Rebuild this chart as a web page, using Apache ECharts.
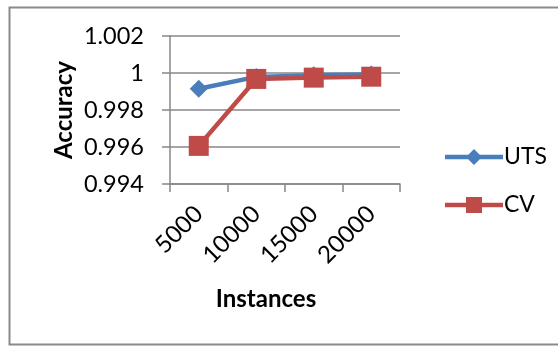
<!DOCTYPE html>
<html>
<head>
<meta charset="utf-8">
<script src="https://cdn.jsdelivr.net/npm/echarts@6/dist/echarts.min.js"></script>
<style>
  html, body { margin: 0; padding: 0; background: #fff; }
  #chart { width: 558px; height: 346px; }
</style>
</head>
<body>
<div id="chart"></div>
<script>
// Accuracy of UTS vs CV for growing numbers of instances
const categories = ['5000', '10000', '15000', '20000'];
const utsValues = [0.99915, 0.99979, 0.99988, 0.99992];
const cvValues = [0.99606, 0.99968, 0.99975, 0.99980];
const yTicks = { min: 0.994, max: 1.002, interval: 0.002 };

const FONT = 'Lato';
const GRID_GRAY = '#878787';
const BLUE = '#4a7ebb';
const RED = '#be4b48';

// Legend icons: a thick line with the series marker in the middle (58 x 16 box)
const ICON_DIAMOND_LINE = 'path://M0,5.75 L23.25,5.75 L29,0 L34.75,5.75 L58,5.75 L58,10.25 L34.75,10.25 L29,16 L23.25,10.25 L0,10.25 Z';
const ICON_SQUARE_LINE = 'path://M0,5.75 L21,5.75 L21,0 L37,0 L37,5.75 L58,5.75 L58,10.25 L37,10.25 L37,16 L21,16 L21,10.25 L0,10.25 Z';

const chart = echarts.init(document.getElementById('chart'), null, { renderer: 'canvas' });

chart.setOption({
  animation: false,
  backgroundColor: '#ffffff',
  graphic: [{
    type: 'rect',
    shape: { x: 9.5, y: 7.5, width: 560, height: 337 },
    style: { fill: 'none', stroke: '#8a8a8a', lineWidth: 2 },
    silent: true
  }],
  grid: { left: 170, right: 158, top: 36, bottom: 162, containLabel: false },
  legend: {
    orient: 'vertical',
    left: 440,
    top: 140,
    itemWidth: 58,
    itemHeight: 16,
    itemGap: 24,
    textStyle: { fontFamily: FONT, fontSize: 23, lineHeight: 24, color: '#000', padding: [0, 0, 0, -4] },
    data: [
      { name: 'UTS', icon: ICON_DIAMOND_LINE },
      { name: 'CV', icon: ICON_SQUARE_LINE }
    ]
  },
  xAxis: {
    type: 'category',
    data: categories,
    boundaryGap: true,
    name: 'Instances',
    nameLocation: 'middle',
    nameGap: 103,
    nameTextStyle: {
      fontFamily: FONT, fontSize: 24, fontWeight: 'bold', color: '#000',
      verticalAlign: 'top', padding: [0, 38, 0, 0]
    },
    axisLine: { lineStyle: { color: GRID_GRAY, width: 1.5 } },
    axisTick: { show: true, length: 8, alignWithLabel: false, lineStyle: { color: GRID_GRAY, width: 1.5 } },
    axisLabel: { rotate: 45, fontFamily: FONT, fontSize: 24, color: '#000', margin: 26 },
    splitLine: { show: false }
  },
  yAxis: {
    type: 'value',
    min: yTicks.min,
    max: yTicks.max,
    interval: yTicks.interval,
    name: 'Accuracy',
    nameLocation: 'middle',
    nameRotate: 90,
    nameGap: 94,
    nameTextStyle: { fontFamily: FONT, fontSize: 24, fontWeight: 'bold', color: '#000' },
    axisLine: { show: true, lineStyle: { color: GRID_GRAY, width: 1.5 } },
    axisTick: { show: true, inside: false, length: 8, lineStyle: { color: GRID_GRAY, width: 1.5 } },
    axisLabel: {
      fontFamily: FONT, fontSize: 23.5, color: '#000', margin: 26,
      formatter: v => String(parseFloat(v.toFixed(3)))
    },
    splitLine: { show: true, lineStyle: { color: GRID_GRAY, width: 1.5 } }
  },
  series: [
    {
      name: 'UTS',
      type: 'line',
      data: utsValues,
      symbol: 'diamond',
      symbolSize: 18,
      itemStyle: { color: BLUE },
      lineStyle: { color: BLUE, width: 4.5 },
      z: 2
    },
    {
      name: 'CV',
      type: 'line',
      data: cvValues,
      symbol: 'rect',
      symbolSize: 20,
      itemStyle: { color: RED },
      lineStyle: { color: RED, width: 4.5 },
      z: 3
    }
  ]
});
</script>
</body>
</html>
